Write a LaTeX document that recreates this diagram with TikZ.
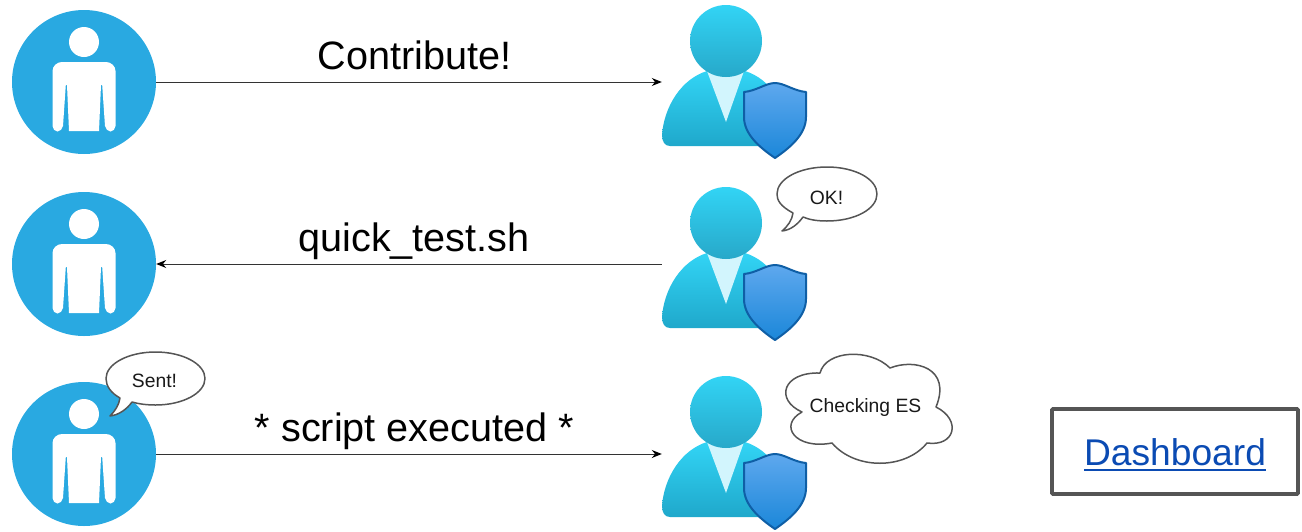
\documentclass[tikz,border=0pt]{standalone}
\usepackage{fontspec}
\setmainfont{Liberation Sans}
\newcommand\linkline[1]{\setbox0=\hbox{#1}\rlap{\rule[-5.5pt]{\wd0}{2pt}}\box0}
\definecolor{cyantop}{HTML}{32D4F5}
\definecolor{cyanlow}{HTML}{1FA8CB}
\definecolor{headlow}{HTML}{27A8C9}
\definecolor{vneck}{HTML}{D2F5FD}
\definecolor{shtop}{HTML}{5EA8EE}
\definecolor{shlow}{HTML}{1B87D9}
\definecolor{shedge}{HTML}{0F5FA6}
\definecolor{userblue}{HTML}{29A9E1}
\definecolor{edgegrey}{HTML}{555555}
\definecolor{linkblue}{HTML}{0B4BB3}
\usetikzlibrary{arrows.meta}
\tikzset{
  x=1pt,y=-1pt,
  usercircle/.style={circle,fill=userblue,minimum size=144pt,inner sep=0pt},
  adminbox/.style={minimum width=144pt,minimum height=60pt,inner sep=0pt},
  bigtext/.style={anchor=base,inner sep=0pt,font=\fontsize{39.6}{42}\selectfont,text=black},
  smalltext/.style={anchor=base,inner sep=0pt,font=\fontsize{19.3}{22}\selectfont,text=black!90},
  flow/.style={draw=black!80,line width=1pt,-{Stealth[length=10pt,width=8pt,color=black]}},
  bubble/.style={draw=edgegrey,line width=1.5pt,fill=white,line join=round},
  dashbox/.style={draw=edgegrey,line width=3.6pt,rounded corners=1pt,minimum width=246pt,minimum height=85pt,inner sep=0pt},
  userpic/.pic={
    \fill[white] (0,-40) circle[radius=15];
    \fill[white] (-31.5,44) -- (-31.5,-11) .. controls (-31.5,-16) and (-27,-20) .. (-22,-20)
      -- (22,-20) .. controls (27,-20) and (31.5,-16) .. (31.5,-11)
      -- (31.5,44) .. controls (31.5,47) and (29,49.5) .. (26.5,49.5)
      .. controls (24,49.5) and (21.5,47) .. (21,44)
      -- (18.2,3) -- (17,3) -- (15,49) -- (-15,49) -- (-17,3) -- (-18.2,3)
      -- (-21,44) .. controls (-21.5,47) and (-24,49.5) .. (-26.5,49.5)
      .. controls (-29,49.5) and (-31.5,47) .. (-31.5,44) -- cycle;
  },
  adminpic/.pic={
    \shade[top color=cyantop,bottom color=cyanlow]
      (-56,64) .. controls (-61,64) and (-64,60) .. (-64,53)
      .. controls (-62,25) and (-45,-3) .. (-19,-11) -- (19,-11)
      .. controls (45,-3) and (62,25) .. (64,53)
      .. controls (64,60) and (61,64) .. (56,64) -- cycle;
    \fill[vneck] (-19,-11) -- (18,-11) -- (0,40) -- cycle;
    \shade[top color=cyantop,bottom color=headlow] (0,-41) circle[radius=36];
    \shade[top color=shtop,bottom color=shlow,draw=shedge,line width=2pt,line join=round]
      (18,10) .. controls (30,9) and (40,1) .. (49,1)
      .. controls (58,1) and (68,9) .. (80,10) -- (80,35)
      .. controls (80,52) and (65,65) .. (49,76)
      .. controls (33,65) and (18,52) .. (18,35) -- cycle;
  }
}
\begin{document}
\begin{tikzpicture}
\useasboundingbox (0,0) rectangle (1302,531);

\node[usercircle] (u1) at (84,82) {};
\node[usercircle] (u2) at (84,264) {};
\node[usercircle] (u3) at (84,454) {};
\pic at (84,82) {userpic};
\pic at (84,264) {userpic};
\pic at (84,454) {userpic};

\node[adminbox] (a1) at (734,82) {};
\node[adminbox] (a2) at (734,264) {};
\node[adminbox] (a3) at (734,454) {};
\pic at (726,82) {adminpic};
\pic at (726,264) {adminpic};
\pic at (726,453) {adminpic};

\draw[flow] (u1.east) -- (a1.west);
\draw[flow] (a2.west) -- (u2.east);
\draw[flow] (u3.east) -- (a3.west);

\node[bigtext] (t1) at (414.5,69) {Contribute!};
\node[bigtext] (t2) at (414,251) {quick\_test.sh};
\node[bigtext] (t3) at (414.5,441) {* script executed *};

% speech bubble OK!
\draw[bubble] (793,213) .. controls (780,206) and (777,200) .. (777,194)
  .. controls (777,179) and (799,167) .. (827,167)
  .. controls (855,167) and (877,179) .. (877,194)
  .. controls (877,209) and (855,221) .. (827,221)
  .. controls (818,221) and (810,220) .. (803,217)
  .. controls (798,224) and (791,230) .. (782,231)
  .. controls (788,226) and (792,220) .. (793,213) -- cycle;
\node[smalltext] (ok) at (826.5,204) {OK!};

% speech bubble Sent!
\draw[bubble] (120,398) .. controls (111,393) and (106,386) .. (106,378.5)
  .. controls (106,364) and (128,352) .. (155.5,352)
  .. controls (183,352) and (205,364) .. (205,378.5)
  .. controls (205,393) and (183,405) .. (155.5,405)
  .. controls (147,405) and (139,404) .. (132,402)
  .. controls (127,409) and (119,415) .. (110,416)
  .. controls (115,411) and (119,405) .. (120,398) -- cycle;
\node[smalltext] (sent) at (154.5,387) {Sent!};

% thought cloud
\draw[bubble] (820,373) .. controls (826,350) and (870,348) .. (890,368)
  .. controls (915,358) and (952,368) .. (936,407)
  .. controls (962,420) and (955,447) .. (927,443)
  .. controls (905,470) and (855,470) .. (832,443)
  .. controls (795,450) and (778,425) .. (802,412)
  .. controls (775,400) and (782,372) .. (820,373) -- cycle;
\node[smalltext] (chk) at (865.5,412) {Checking ES};

\node[dashbox] (dash) at (1175,451.5) {};
\node[anchor=base,inner sep=0pt,font=\fontsize{37.2}{40}\selectfont,text=linkblue] (dt) at (1175,465.5) {\linkline{Dashboard}};
\end{tikzpicture}
\end{document}
